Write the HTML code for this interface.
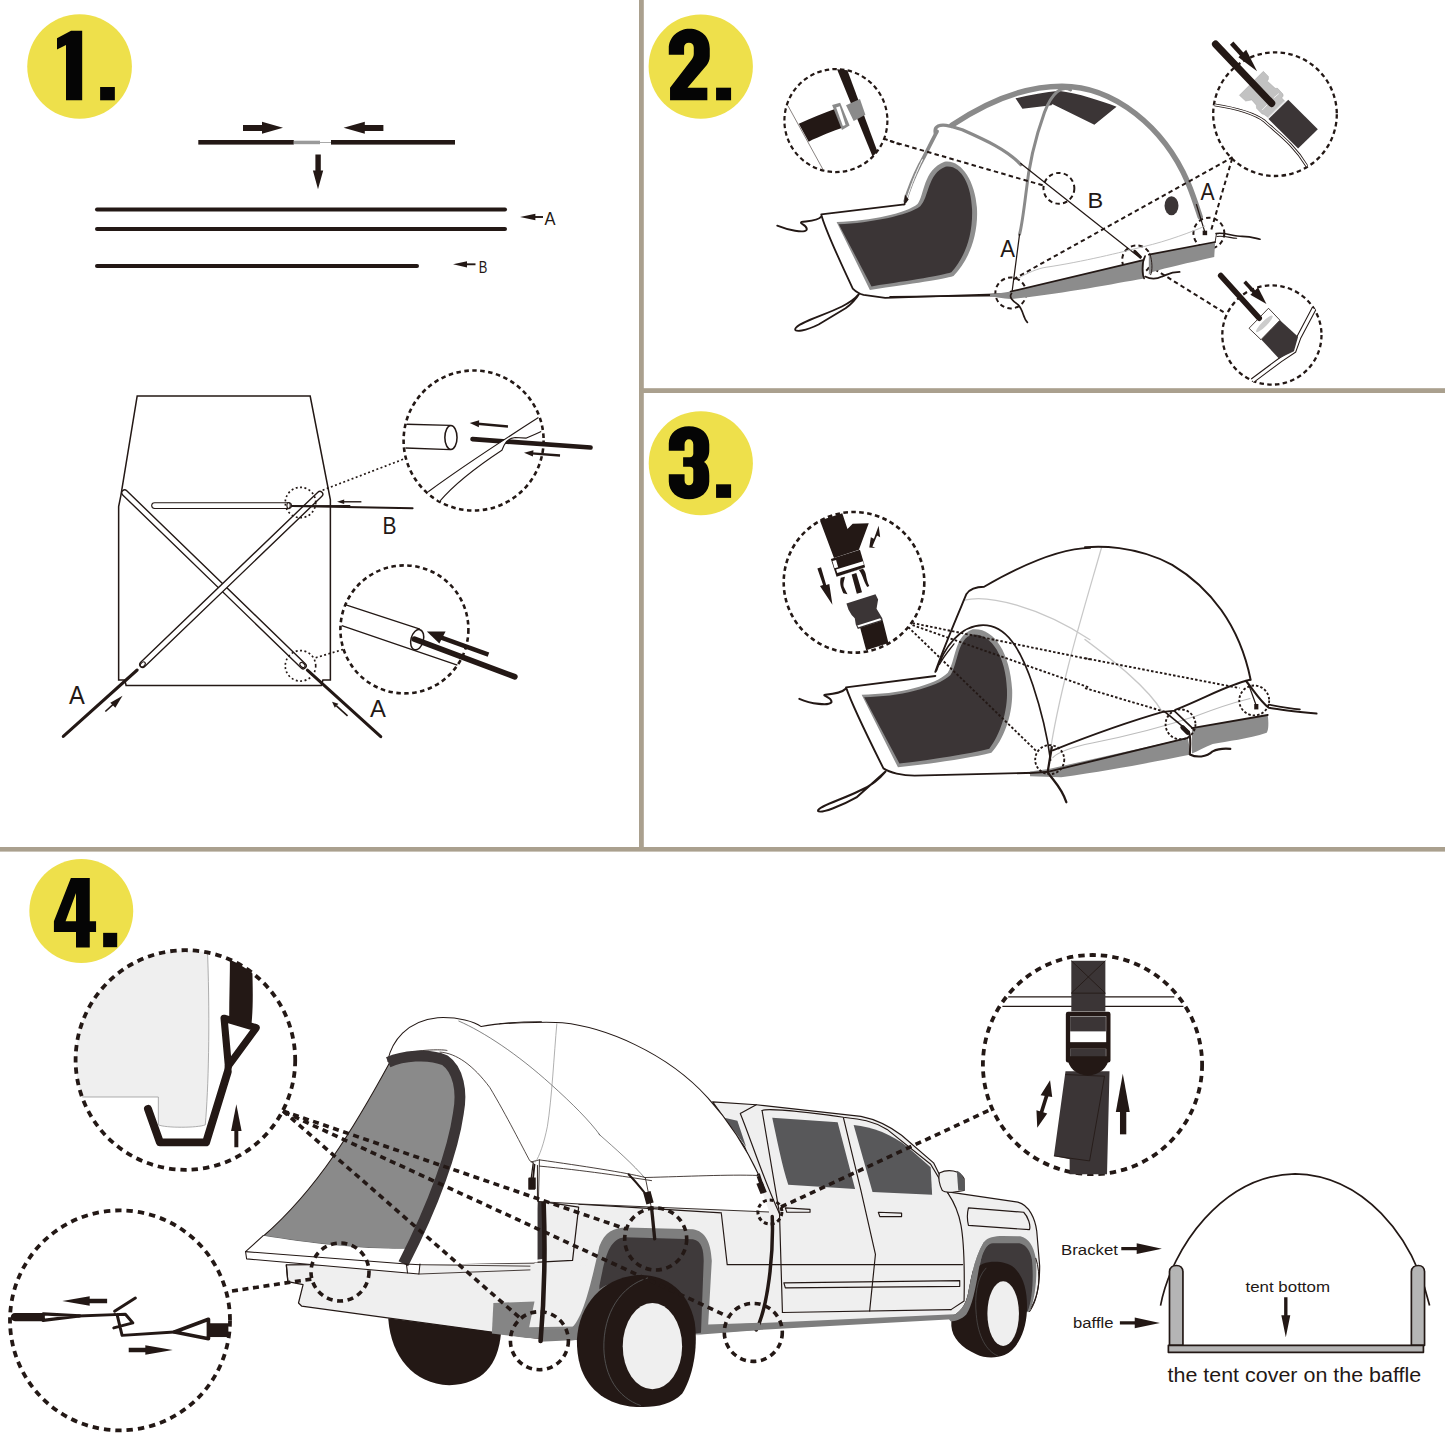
<!DOCTYPE html>
<html><head><meta charset="utf-8">
<style>
html,body{margin:0;padding:0;background:#fff;}
body{width:1445px;height:1445px;overflow:hidden;position:relative;}
svg{position:absolute;left:0;top:0;}
text{font-family:"Liberation Sans",sans-serif;}
</style></head>
<body>
<svg width="1445" height="1445" viewBox="0 0 1445 1445">
<rect x="0" y="0" width="1445" height="1445" fill="#ffffff"/>
<!-- dividers -->
<rect x="639" y="0" width="4.8" height="851" fill="#aaa08e"/>
<rect x="639" y="388.2" width="806" height="4.8" fill="#aaa08e"/>
<rect x="0" y="847" width="1445" height="4.6" fill="#aaa08e"/>

<!-- BADGES -->
<g id="badges">
<g transform="translate(10,0) scale(0.0969)">
<circle cx="718" cy="686.5" r="540" fill="#eee04b"/>
<path d="M485,395 L630,318 L745,318 L745,1035 L578,1035 L578,465 L485,510 Z" fill="#050505"/>
<rect x="930" y="898" width="152" height="137" fill="#050505"/>
</g>
<g transform="translate(640,0) scale(0.0969)">
<circle cx="627" cy="686.5" r="538" fill="#eee04b"/>
<path d="M297,565 L297,500 C297,380 400,297 510,297 C630,297 720,380 720,500 L720,580 C720,620 705,650 690,670 L490,905 L695,905 L695,1035 L310,1035 L310,905 L530,620 C545,600 555,580 555,555 L555,490 C555,460 535,440 505,440 C475,440 455,460 455,490 L455,565 Z" fill="#050505"/>
<rect x="785" y="905" width="155" height="130" fill="#050505"/>
</g>
<g transform="translate(640,400) scale(0.0969)">
<circle cx="627.5" cy="652.5" r="537.5" fill="#eee04b"/>
<path d="M297,525 L297,450 C297,340 390,270 505,270 C625,270 715,340 715,460 L715,520 C715,580 690,620 660,640 C695,660 715,710 715,780 L715,840 C715,950 625,1025 505,1025 C390,1025 297,950 297,840 L297,765 L460,765 L460,830 C460,860 480,880 505,880 C530,880 550,860 550,830 L550,720 C550,700 535,690 515,690 L445,690 L445,590 L515,590 C535,590 550,575 550,555 L550,460 C550,425 530,405 505,405 C480,405 460,425 460,460 L460,525 Z" fill="#050505"/>
<rect x="785" y="870" width="155" height="140" fill="#050505"/>
</g>
<g transform="translate(20,850) scale(0.0969)">
<circle cx="632.5" cy="630" r="536" fill="#eee04b"/>
<path d="M525,290 L720,290 L720,735 L785,735 L785,845 L720,845 L720,1005 L578,1005 L578,845 L350,845 L350,735 Z M578,445 L470,735 L578,735 Z" fill="#050505" fill-rule="evenodd"/>
<rect x="858" y="855" width="145" height="148" fill="#050505"/>
</g>
</g>

<!-- PANEL 1 -->
<g id="p1" fill="#231815" stroke="none">
<rect x="198.3" y="140" width="95.5" height="4.6"/>
<rect x="293.8" y="140.7" width="26.2" height="3.5" fill="#9a9a9a"/>
<rect x="320" y="142" width="11" height="1" fill="#aaa"/>
<rect x="331" y="140" width="124" height="4.6"/>
<path d="M243,125 L262,125 L262,121.8 L283,127.8 L262,133.8 L262,131 L243,131 Z"/>
<path d="M383.4,125 L364.8,125 L364.8,121.8 L343.6,127.8 L364.8,133.8 L364.8,131 L383.4,131 Z"/>
<path d="M315.4,154.4 L320.8,154.4 L320.8,170.6 L323.2,170.6 L318,189.3 L312.9,170.6 L315.4,170.6 Z"/>
<g stroke="#231815" stroke-width="4" stroke-linecap="round" fill="none">
<line x1="97" y1="209.5" x2="505" y2="209.5"/>
<line x1="97" y1="229" x2="505" y2="229"/>
<line x1="97" y1="266" x2="417" y2="266"/>
</g>
<g stroke="#231815" stroke-width="1.9" fill="none">
<line x1="533" y1="217" x2="543" y2="217"/>
<line x1="466" y1="264.3" x2="475.5" y2="264.3"/>
</g>
<path d="M520,217 L535.4,213.8 L535.4,220.2 Z"/>
<path d="M453,264.3 L467,261.2 L467,267.4 Z"/>
<text x="544.6" y="225.3" font-size="17.5" fill="#231815" textLength="11" lengthAdjust="spacingAndGlyphs">A</text>
<text x="478.8" y="273.3" font-size="17" fill="#231815" textLength="8.6" lengthAdjust="spacingAndGlyphs">B</text>
</g>

<!-- PANEL 1 lower -->
<g id="p1b">
<g transform="translate(50,360) scale(0.27678)" fill="none" stroke="#231815">
<path d="M315,130 L940,130 L1013,505 L1013,1156 L986,1156 L980,1176 L275,1176 L270,1156 L248,1156 L248,530 L256,490 Z" stroke-width="5.5" stroke-linejoin="miter"/>
<line x1="270" y1="480" x2="915" y2="1105" stroke-width="26" stroke-linecap="round"/>
<line x1="270" y1="480" x2="915" y2="1105" stroke-width="16" stroke="#fff" stroke-linecap="round"/>
<line x1="975" y1="485" x2="335" y2="1100" stroke-width="26" stroke-linecap="round"/>
<line x1="975" y1="485" x2="335" y2="1100" stroke-width="16" stroke="#fff" stroke-linecap="round"/>
<ellipse cx="335" cy="1100" rx="7" ry="11" transform="rotate(45 335 1100)" stroke-width="4"/>
<ellipse cx="912" cy="1102" rx="7" ry="11" transform="rotate(-45 912 1102)" stroke-width="4"/>
<line x1="378" y1="526" x2="862" y2="526" stroke-width="25" stroke-linecap="round"/>
<line x1="378" y1="526" x2="862" y2="526" stroke-width="17" stroke="#fff" stroke-linecap="round"/>
<ellipse cx="862" cy="526" rx="6" ry="11" stroke-width="4"/>
<circle cx="905" cy="515" r="55" stroke-width="6" stroke-dasharray="7 9"/>
<circle cx="905" cy="1105" r="55" stroke-width="6" stroke-dasharray="7 9"/>
<line x1="48" y1="1360" x2="315" y2="1120" stroke-width="11" stroke-linecap="round"/>
<line x1="200" y1="1270" x2="245" y2="1229" stroke-width="6"/>
<path d="M262,1213 L218,1238 L236,1256 Z" fill="#231815" stroke="none"/>
<line x1="882" y1="528" x2="1085" y2="527" stroke-width="7"/>
</g>
<text x="69" y="703.8" font-size="25" fill="#231815" textLength="15.8" lengthAdjust="spacingAndGlyphs">A</text>
<g transform="translate(270,360) scale(0.27693)" fill="none" stroke="#231815">
<line x1="190" y1="470" x2="490" y2="355" stroke-width="6" stroke-dasharray="7 9"/>
<line x1="165" y1="1075" x2="265" y2="1045" stroke-width="6" stroke-dasharray="7 9"/>
<line x1="80" y1="527" x2="515" y2="535" stroke-width="7" stroke-linecap="round"/>
<line x1="330" y1="512" x2="262" y2="512" stroke-width="5"/>
<path d="M242,512 L268,504 L268,520 Z" fill="#231815" stroke="none"/>
<line x1="135" y1="1120" x2="400" y2="1360" stroke-width="11" stroke-linecap="round"/>
<line x1="280" y1="1285" x2="240" y2="1249" stroke-width="6"/>
<path d="M224,1234 L247,1241 L234,1256 Z" fill="#231815" stroke="none"/>
</g>
<text x="382.4" y="533.9" font-size="24.5" fill="#231815" textLength="14" lengthAdjust="spacingAndGlyphs">B</text>
<text x="370" y="716.7" font-size="24.3" fill="#231815" textLength="15.9" lengthAdjust="spacingAndGlyphs">A</text>
<circle cx="473.6" cy="440.5" r="70" fill="none" stroke="#231815" stroke-width="2.6" stroke-dasharray="4.5 3.5"/>
<g transform="translate(400,360) scale(0.11074)" fill="none" stroke="#231815">
<path d="M60,580 L455,590 M50,795 L455,810" stroke-width="12"/>
<ellipse cx="460" cy="700" rx="55" ry="108" stroke-width="14" fill="#fff"/>
<line x1="975" y1="600" x2="700" y2="575" stroke-width="22"/>
<path d="M630,570 L715,545 L712,608 Z" fill="#231815" stroke="none"/>
<line x1="655" y1="715" x2="1720" y2="790" stroke-width="42" stroke-linecap="round"/>
<path d="M255,1190 C500,1010 750,840 1250,520 L1275,645 C1200,680 1150,700 1140,705 L1040,700 C990,705 960,730 940,770 L920,815 C700,960 500,1110 360,1275 Z" fill="#fff" stroke="none"/>
<path d="M255,1190 C500,1010 750,840 1250,520 M1275,645 C1200,680 1150,700 1140,705 L1040,700 C990,705 960,730 940,770 L920,815 C700,960 500,1110 360,1275" stroke-width="10"/>
<line x1="1445" y1="862" x2="1190" y2="843" stroke-width="22"/>
<path d="M1120,838 L1205,815 L1200,872 Z" fill="#231815" stroke="none"/>
</g>
<circle cx="404.4" cy="629.4" r="64" fill="none" stroke="#231815" stroke-width="2.6" stroke-dasharray="4.5 3.5"/>
<g transform="translate(330,555) scale(0.13841)" fill="none" stroke="#231815">
<path d="M115,360 L650,535 M85,510 L920,795" stroke-width="9"/>
<line x1="610" y1="608" x2="1335" y2="880" stroke-width="42" stroke-linecap="round"/>
<ellipse cx="630" cy="612" rx="45" ry="75" transform="rotate(15 630 612)" stroke-width="11"/>
<line x1="1145" y1="720" x2="800" y2="595" stroke-width="34"/>
<path d="M700,552 L835,553 L790,640 Z" fill="#231815" stroke="none"/>
</g>
</g>

<!-- PANEL 2 -->
<g id="p2">
<!-- front panel + window (H) -->
<g transform="translate(770,150) scale(0.17993)" fill="none" stroke="#231815" stroke-linecap="round" stroke-linejoin="round">
<path d="M370,400 C560,395 760,350 820,300 C860,250 850,110 970,65 C1060,50 1140,170 1150,320 C1160,480 1100,620 1020,700 C960,720 800,740 555,778 Z" fill="#8e8e8e" stroke="none"/>
<path d="M382,412 C560,405 770,362 835,312 C885,262 875,130 975,93 C1060,80 1118,190 1123,330 C1128,480 1080,600 1008,680 C950,700 800,722 564,758 Z" fill="#3b3536" stroke="none"/>
<path d="M748,302 L285,358 C300,420 380,600 460,770 C480,790 500,800 520,805 L640,822 L1340,800" stroke-width="10"/>
<path d="M40,420 C90,440 200,470 205,440 C205,415 160,410 175,400 C210,395 270,395 285,370" stroke-width="10"/>
<path d="M495,800 C470,830 440,850 400,870 C300,920 150,960 140,995 C135,1015 200,1005 270,970 L420,880 C460,850 480,825 495,800" stroke-width="10"/>
</g>
<!-- dome (I) -->
<g transform="translate(920,70) scale(0.13841)" stroke="none">
<path d="M690,205 C800,180 900,160 1010,150 L950,255 L740,280 Z M1000,150 C1150,170 1300,220 1420,265 L1260,395 L955,245 Z" fill="#3b3536"/>
</g>

<g transform="translate(890,70) scale(0.24913)" fill="none" stroke="#231815" stroke-linecap="round" stroke-linejoin="round">
<path d="M0,910 L480,905" stroke-width="6"/>

<path d="M248,222 C400,120 550,65 690,65 C900,65 1100,230 1195,450 C1220,510 1235,560 1245,590" stroke="#8a8a8a" stroke-width="22"/>
<path d="M182,255 C175,225 200,215 240,225 L290,240 C380,280 470,320 525,380" stroke="#8a8a8a" stroke-width="13"/>
<path d="M189,246 C165,290 145,335 120,380 C95,430 75,480 61,527" stroke="#8a8a8a" stroke-width="15"/>
<path d="M60,500 L55,545 L75,520 Z" fill="#231815" stroke="none"/>
<path d="M130,360 C110,400 85,460 70,510" stroke="#fff" stroke-width="4"/>
<path d="M725,80 C690,60 650,90 620,170 C590,253 560,350 545,500 C535,580 525,640 520,660" stroke="#8a8a8a" stroke-width="12"/>
<path d="M520,660 L490,890" stroke-width="5"/>
<path d="M1230,540 L1265,655" stroke-width="5"/>
<path d="M525,375 L1005,755" stroke-width="5"/>
<ellipse cx="1130" cy="545" rx="28" ry="38" fill="#3b3536" stroke="none"/>
<rect x="1255" y="645" width="18" height="18" fill="#231815" stroke="none"/>
<g stroke-width="8" stroke-dasharray="18 13" stroke-linecap="butt">
<path d="M0,285 L620,465"/>
<path d="M495,840 L1375,350"/>
<path d="M1290,640 L1375,350"/>
<path d="M1061,799 L1339,972"/>
<circle cx="678" cy="475" r="62"/>
<circle cx="485" cy="895" r="62"/>
<circle cx="990" cy="762" r="58"/>
<circle cx="1280" cy="655" r="62"/>
</g>
</g>
<g transform="translate(990,200) scale(0.18685)" fill="none" stroke="#231815" stroke-linecap="round" stroke-linejoin="round">
<path d="M0,505 C40,500 80,495 110,490 L820,322 L825,420 C650,450 400,500 110,530 C70,528 30,520 0,515 Z" fill="#8c8c8c" stroke="none"/>
<path d="M850,292 L1205,225 L1200,305 C1050,340 950,360 870,385 L850,400 Z" fill="#8c8c8c" stroke="none"/>
<path d="M150,420 C200,390 260,365 300,360 C500,330 700,280 820,250 C950,220 1080,170 1150,140" stroke="#bbb" stroke-width="5"/>
<path d="M110,490 L820,322 M850,292 L1205,225" stroke-width="9"/>
<path d="M1205,225 L1212,180" stroke-width="5"/>
<path d="M830,300 C810,340 815,400 825,420" stroke-width="9"/>
<path d="M855,285 C870,330 870,380 860,400" stroke-width="5"/>
<path d="M1210,180 C1250,170 1300,195 1350,195 C1400,195 1420,205 1445,210" stroke-width="9"/>
<path d="M1215,195 C1260,190 1290,205 1320,205" stroke-width="6"/>
<path d="M830,410 C870,430 900,420 920,410 C950,400 960,385 1015,385" stroke-width="9"/>
<path d="M115,500 C100,520 120,540 150,560 C180,590 175,630 200,655" stroke-width="9"/>
<path d="M775,275 L805,305" stroke-width="16"/>
</g>
<text x="1000.3" y="257.1" font-size="23.5" fill="#231815" textLength="14.8" lengthAdjust="spacingAndGlyphs">A</text>
<text x="1087.6" y="208" font-size="21.5" fill="#231815" textLength="15.7" lengthAdjust="spacingAndGlyphs">B</text>
<text x="1200.4" y="199.5" font-size="23" fill="#231815" textLength="14.1" lengthAdjust="spacingAndGlyphs">A</text>
<!-- strap circle (G) -->
<circle cx="835.9" cy="120.6" r="51.5" fill="none" stroke="#231815" stroke-width="2.2" stroke-dasharray="4.5 3.2"/>
<g transform="translate(770,50) scale(0.08997)" stroke="none">
<path d="M200,620 L590,1330" stroke="#231815" stroke-width="6"/>
<path d="M745,215 L860,225 L1195,1130 L1140,1185 Z" fill="#231815"/>
<path d="M320,820 C450,760 600,700 735,650 L820,860 C700,900 550,960 430,1020 Z" fill="#231815"/>
<path d="M690,610 L780,585 L885,840 L800,890 Z" fill="#8a8a8a"/>
<path d="M735,640 L775,625 L840,835 L810,845 Z" fill="#fff"/>
<path d="M845,615 L1000,545 L1060,720 L930,790 Z" fill="#8a8a8a"/>
<line x1="1265" y1="985" x2="1445" y2="1050" stroke="#231815" stroke-width="22" stroke-dasharray="45 30"/>
</g>
<!-- upper right circle (J) -->
<circle cx="1275" cy="114.2" r="61.8" fill="none" stroke="#231815" stroke-width="2.3" stroke-dasharray="4.5 3.3"/>
<g transform="translate(1200,40) scale(0.10381)" fill="none" stroke="#231815" stroke-linecap="round">
<path d="M140,625 C300,650 500,690 620,780 C750,900 900,1000 1030,1215" stroke-width="28" stroke-linecap="butt"/>
<path d="M140,625 C300,650 500,690 620,780 C750,900 900,1000 1030,1215" stroke="#fff" stroke-width="12" stroke-linecap="butt"/>
<path d="M660,760 L850,575 L1135,860 L945,1045 Z" fill="#3b3536" stroke="none"/>
</g>
<g transform="translate(1235,65) scale(0.04845)" stroke="none">
<path d="M90,625 L585,130 L690,235 L690,295 L665,330 L830,480 L880,482 L990,600 L995,640 L965,680 L1030,750 L690,1090 L600,1020 L560,1012 L445,895 L440,830 L345,720 L220,745 Z" fill="#c2c2c2" stroke="#9a9a9a" stroke-width="8"/>
<path d="M560,930 L665,820 M800,680 L905,590" stroke="#fff" stroke-width="16"/>
<path d="M1030,750 L690,1090" stroke="#e5e5e5" stroke-width="30"/>
</g>
<g transform="translate(1200,40) scale(0.10381)" fill="none" stroke="#231815" stroke-linecap="round">
<line x1="150" y1="40" x2="690" y2="610" stroke-width="70"/>
<line x1="305" y1="30" x2="450" y2="190" stroke-width="45" stroke-linecap="butt"/>
<path d="M550,300 L370,165 L445,95 Z" fill="#231815" stroke="none"/>
</g>
<!-- lower right circle (K) -->
<circle cx="1271.9" cy="335" r="49.6" fill="none" stroke="#231815" stroke-width="2.3" stroke-dasharray="4.5 3.3"/>
<g transform="translate(1200,260) scale(0.10381)" fill="none" stroke="#231815" stroke-linecap="round">
<path d="M505,1162 L770,965 L905,875 L950,750 L1098,470" stroke-width="50" stroke-linecap="butt" stroke-linejoin="miter"/>
<path d="M505,1162 L770,965 L905,875 L950,750 L1098,470" stroke="#fff" stroke-width="30" stroke-linecap="butt" stroke-linejoin="miter"/>
<path d="M590,765 L770,580 L945,740 L905,880 L760,950 Z" fill="#3b3536" stroke="none"/>
<path d="M475,655 L660,465 L770,580 L590,765 Z" fill="#fff" stroke-width="8"/>
<ellipse cx="620" cy="615" rx="110" ry="25" transform="rotate(-45 620 615)" fill="#ccc" stroke="none"/>
<line x1="200" y1="150" x2="570" y2="560" stroke-width="55"/>
<line x1="430" y1="210" x2="550" y2="340" stroke-width="35" stroke-linecap="butt"/>
<path d="M640,425 L485,335 L560,265 Z" fill="#231815" stroke="none"/>
</g>
</g>

<!-- PANEL 3 -->
<g id="p3">
<g transform="translate(790,540) scale(0.20761)" fill="none" stroke="#231815" stroke-linecap="round" stroke-linejoin="round">
<path d="M840,290 C950,260 1200,320 1445,480" stroke="#c8c8c8" stroke-width="6"/>
<path d="M1501,35 C1420,320 1300,700 1250,1040" stroke="#c8c8c8" stroke-width="6"/>
<path d="M345,745 C520,745 700,700 760,640 C800,580 790,460 880,430 C980,420 1060,540 1070,720 C1075,840 1030,960 970,1025 C870,1050 700,1075 520,1095 Z" fill="#8e8e8e" stroke="none"/>
<path d="M357,757 C520,757 705,712 772,652 C812,592 805,472 880,455 C970,450 1040,560 1045,720 C1050,830 1010,940 960,1005 C860,1030 700,1055 527,1077 Z" fill="#3b3536" stroke="none"/>
<path d="M700,635 C740,520 800,380 850,260 C870,230 910,225 935,225 C1100,130 1300,40 1445,38" stroke-width="9"/>
<path d="M705,630 C740,520 820,410 930,410 C1040,410 1110,520 1170,700 C1210,820 1240,950 1255,1060" stroke-width="8"/>
<path d="M720,600 C740,560 760,540 790,500" stroke-width="6"/>
<path d="M700,655 L270,710 C300,800 380,960 450,1100 C480,1120 540,1135 600,1135 L1230,1120" stroke-width="9"/>
<path d="M45,765 C100,790 190,800 200,780 C200,755 150,750 170,745 C220,740 250,735 270,715" stroke-width="10"/>
<path d="M460,1115 C430,1150 400,1180 330,1210 C250,1250 130,1285 135,1305 C145,1320 250,1280 320,1240 L460,1115" stroke-width="10"/>
<g stroke-width="9" stroke-dasharray="12 9.6" stroke-linecap="butt">
<path d="M590,400 L1445,575"/>
<path d="M590,410 L1445,712"/>
<path d="M570,420 L1190,1020"/>
</g>
</g>
<g transform="translate(1085,500) scale(0.24913)" fill="none" stroke="#231815" stroke-linecap="round" stroke-linejoin="round">
<path d="M0,560 C120,650 250,750 310,850" stroke="#c8c8c8" stroke-width="6"/>
<path d="M0,190 C50,185 200,180 350,260 C500,350 620,500 665,722" stroke-width="8"/>
<g stroke-width="7.6" stroke-dasharray="10 8" stroke-linecap="butt">
<path d="M0,635 L620,755"/>
<path d="M0,755 L320,850"/>
</g>
</g>
<g transform="translate(1030,660) scale(0.20761)" fill="none" stroke="#231815" stroke-linecap="round" stroke-linejoin="round">
<path d="M0,537 L90,525 L760,375 L775,455 C600,490 400,530 150,565 L0,560 Z" fill="#8c8c8c" stroke="none"/>
<path d="M780,330 L1145,265 C1150,300 1150,340 1140,350 C1050,380 950,390 880,405 C840,420 810,440 780,450 Z" fill="#8c8c8c" stroke="none"/>
<path d="M110,470 C150,430 250,410 300,400 C500,360 650,320 800,270 C900,230 1000,200 1060,185" stroke="#bdbdbd" stroke-width="5"/>
<path d="M0,545 L90,538 L760,375 M780,328 L1145,265" stroke-width="9"/>
<path d="M110,435 C300,360 500,290 640,250 L690,245 M700,240 C850,180 950,120 1060,95" stroke-width="9"/>
<path d="M650,250 L760,340 M695,245 L790,335" stroke-width="8"/>
<path d="M735,325 L760,350" stroke-width="22"/>
<g stroke-width="9" stroke-dasharray="12 9.6" stroke-linecap="butt">
<circle cx="95" cy="480" r="70"/>
<circle cx="725" cy="310" r="72"/>
<circle cx="1080" cy="195" r="72"/>
</g>
<path d="M105,420 L85,540 C110,580 150,610 175,685" stroke-width="11"/>
<path d="M765,345 C778,380 770,430 770,455 C800,470 850,470 880,440 C900,430 930,425 965,428" stroke-width="10"/>
<path d="M1040,100 C1080,150 1110,200 1150,230 C1200,240 1300,250 1380,258" stroke-width="10"/>
<path d="M1150,215 C1200,225 1250,235 1300,238" stroke-width="8"/>
<path d="M1052,115 L1090,220" stroke-width="6"/>
<rect x="1080" y="212" width="20" height="26" fill="#231815" stroke="none"/>
</g>
<circle cx="854" cy="582.3" r="70.3" fill="none" stroke="#231815" stroke-width="2.6" stroke-dasharray="4.6 3.4"/>
<g transform="translate(780,505) scale(0.10381)" stroke="none">
<path d="M385,150 L600,80 L650,230 L700,180 L855,175 L760,430 L520,510 Z" fill="#231815"/>
<path d="M490,520 L770,430 L820,600 L545,690 Z" fill="#231815"/>
<path d="M505,540 L540,530 L560,600 L525,610 Z M540,622 L800,542 L808,575 L552,655 Z" fill="#fff"/>
<path d="M545,690 L820,600 L800,610 Z" fill="#231815"/>
<path d="M690,670 L735,655 L790,840 L740,855 Z" fill="#231815"/>
<path d="M585,700 L625,690 C620,730 600,760 620,800 L650,860 L610,850 C590,800 570,760 585,700 Z" fill="#231815"/>
<path d="M760,625 L800,615 C840,660 820,700 860,780 L840,790 C800,720 800,680 760,625 Z" fill="#231815"/>
<path d="M360,612 L395,600 L445,770 L475,760 L505,960 L385,780 L415,770 Z" fill="#231815"/>
<path d="M950,200 L965,310 L935,295 L890,400 L920,415 L860,410 L875,310 L905,325 L945,215 Z" fill="#231815"/>
<path d="M640,950 L920,860 L945,910 L930,1000 L955,1040 L985,1090 L990,1115 L750,1195 L730,1150 L720,1090 L690,1060 L660,1010 Z" fill="#3b3536"/>
<path d="M745,1160 L965,1090 L975,1108 L755,1178 Z" fill="#fff"/>
<path d="M772,1182 L990,1112 L1045,1330 L830,1400 Z" fill="#231815"/>
</g>
</g>

<!-- PANEL 4 -->
<g id="p4">
<!-- rear Y1 -->
<g transform="translate(230,1000) scale(0.3045)" fill="none" stroke="#231815" stroke-linejoin="round" stroke-linecap="round">
<path d="M185,870 L1445,860 L1445,1095 L1120,1115 L1000,1110 L235,1005 L225,995 L240,935 L190,925 Z" fill="#efefef" stroke-width="4"/>
<path d="M520,1050 C530,1170 600,1260 720,1265 C830,1260 880,1200 890,1095 L860,1090 L520,1045 Z" fill="#231815" stroke="none"/>
<path d="M865,995 L1000,990 L975,1110 L860,1095 Z" fill="#858585" stroke="none"/>
<path d="M975,1075 L1140,1072 L1130,1115 L975,1110 Z" fill="#858585" stroke="none"/>
<path d="M1000,655 L1445,640 L1445,860 L1000,880 Z" fill="#efefef" stroke="none"/>
<path d="M1010,660 L1145,680 L1125,855 L1000,862" stroke-width="4"/>
<path d="M1010,662 L1035,662 L1030,850 L995,855 Z" fill="#3b3536" stroke="none"/>
</g>
<!-- front body V -->
<g transform="translate(640,1080) scale(0.29066)" fill="none" stroke="#231815" stroke-linejoin="round" stroke-linecap="round">
<path d="M0,335 L400,328 L360,230 L250,75 L400,85 L760,125 C810,135 860,160 900,190 L1010,285 L1060,385 L1300,420 C1340,430 1360,480 1365,520 L1375,640 C1375,700 1365,760 1340,790 L1110,815 L230,870 L200,880 L0,880 Z" fill="#efefef" stroke="none"/>
<path d="M0,335 L400,328 L360,230 L250,75 L400,85 L760,125 C810,135 860,160 900,190 L1010,285 L1060,385 L1300,420 C1340,430 1360,480 1365,520 L1375,640 C1375,700 1365,760 1340,790" stroke-width="4"/>
<path d="M455,130 L680,145 L740,375 L510,360 C490,300 470,200 455,130 Z" fill="#58585a" stroke="none"/>
<path d="M735,155 C800,160 870,190 920,230 L1000,300 L1005,395 L800,385 Z" fill="#58585a" stroke="none"/>
<path d="M290,130 L335,140 L365,230 Z" fill="#58585a" stroke="none"/>
<path d="M345,115 L400,85 M345,115 C380,200 420,330 480,460" stroke-width="4"/>
<path d="M420,105 C430,100 500,100 700,128 C760,135 800,140 850,170 L1000,290 L1060,390" stroke-width="4"/>
<path d="M420,105 L480,460 L490,800 M700,130 L760,380 L810,600 L790,795 M1060,390 C1100,450 1120,500 1115,760 L1070,790" stroke-width="4"/>
<path d="M300,635 L1110,635 M280,460 L300,635 M490,800 L1070,790 M-210,427 L280,457" stroke-width="4"/>
<path d="M495,698 L1100,690 L1100,710 L500,715 Z" stroke-width="4"/>
<path d="M500,440 L585,445 L585,455 L505,455 Z M820,455 L900,458 L900,470 L825,470 Z" stroke-width="4"/>
<path d="M1030,320 C1060,305 1100,310 1115,340 L1115,380 C1090,385 1050,390 1040,380 C1030,360 1025,340 1030,320 Z" fill="#efefef" stroke-width="4"/>
<path d="M1090,312 C1110,320 1118,340 1118,380 L1095,380 Z" fill="#58585a" stroke="none"/>
<path d="M1130,440 L1320,455 C1335,470 1345,500 1340,515 L1130,500 C1125,480 1125,460 1130,440 Z" stroke-width="4"/>
<path d="M230,845 L1100,805 L1090,822 L230,870 Z" fill="#7e7e7e" stroke="none"/>
<path d="M400,325 L420,385" stroke-width="25" stroke-linecap="butt"/>
<path d="M380,280 L405,330" stroke-width="5"/>
<path d="M455,470 C460,600 440,780 400,860" stroke-width="12"/>
</g>
<!-- front wheel FW -->
<g transform="translate(860,1140) scale(0.16609)" stroke="none">
<path d="M530,1070 C600,1045 640,1000 655,900 C675,790 700,690 745,615 C770,585 810,578 860,578 L965,580 C1015,590 1045,640 1058,710 C1068,800 1060,950 1020,1035 Z" fill="#7e7e7e"/>
<path d="M690,1000 C700,900 715,780 735,690 C750,645 770,625 800,622 L960,622 C1000,630 1025,670 1035,720 C1045,820 1040,950 1010,1030 L690,1030 Z" fill="#3f3a3b"/>
<clipPath id="clipFW"><path d="M0,1075 L530,1075 C600,1045 640,1000 655,900 C675,790 700,690 745,615 L1200,615 L1200,1445 L0,1445 Z"/></clipPath>
<path clip-path="url(#clipFW)" d="M550,1120 C550,960 620,800 740,745 C800,725 880,730 930,770 C990,830 1010,920 1005,1030 C1000,1150 950,1260 870,1295 C820,1315 750,1315 700,1290 C610,1250 555,1190 550,1120 Z" fill="#231815"/>
<path d="M530,1070 C600,1045 640,1000 655,900 C675,790 700,690 745,615 L785,622 C750,645 730,700 715,780 C695,900 675,1000 640,1050 C610,1080 575,1090 545,1092 Z" fill="#7e7e7e"/>
<ellipse cx="862" cy="1045" rx="95" ry="195" fill="#efefef"/>
<path d="M760,770 C700,830 690,950 700,1050 C710,1180 760,1270 830,1300" fill="none" stroke="#555" stroke-width="4"/>
<path d="M1058,710 C1075,760 1080,820 1075,870 C1065,950 1045,1000 1020,1035" fill="none" stroke="#231815" stroke-width="6"/>
</g>
<!-- rear right wheel Z -->
<g transform="translate(540,1160) scale(0.17989)" stroke="none">
<path d="M0,945 L170,940 C240,880 280,700 330,480 C360,400 410,375 480,375 L850,385 C920,395 950,460 955,560 L935,915 L1223,905 L1223,945 L895,970 L870,970 L200,1000 L0,1010 Z" fill="#7e7e7e"/>
<path d="M330,700 C360,550 380,440 470,430 L850,440 C900,450 910,500 910,560 L895,960 L860,965 C850,800 780,680 600,650 C450,650 350,700 330,720 Z" fill="#3f3a3b"/>
<path d="M205,1000 C215,800 350,660 530,640 C700,630 820,720 860,900 C880,1050 850,1200 790,1300 C720,1370 620,1380 500,1370 C350,1350 260,1260 225,1150 C210,1100 205,1050 205,1000 Z" fill="#231815"/>
<ellipse cx="625" cy="1035" rx="165" ry="240" fill="#efefef"/>
<path d="M600,655 C450,700 350,850 355,1050 C360,1200 430,1320 560,1365" fill="none" stroke="#555" stroke-width="5"/>
</g>
<!-- rear Y2 -->
<g transform="translate(230,1000) scale(0.3045)" fill="none" stroke="#231815" stroke-linejoin="round" stroke-linecap="round">
<path d="M520,195 C530,120 600,60 700,60 C760,60 800,75 830,85 C950,70 1100,70 1200,90 C1300,120 1400,180 1445,210 L1445,590 L1370,585 L1010,530 L1010,862 L620,870 L105,775 C220,620 330,480 420,370 C470,290 500,230 520,195 Z" fill="#fff" stroke="none"/>
<path d="M1010,525 L1010,660" stroke-width="4"/>
<path d="M185,870 L190,925" stroke-width="4"/>
<path d="M1000,540 L995,590" stroke-width="6"/>
<rect x="980" y="585" width="22" height="38" fill="#231815" stroke="none"/>
<path d="M1030,665 C1035,800 1035,950 1020,1120" stroke-width="15"/>
</g>
<g transform="translate(230,1000) scale(0.20761)" fill="none" stroke="#231815" stroke-linejoin="round" stroke-linecap="round">
<path d="M760,290 C780,200 850,100 1000,85 C1100,80 1180,105 1210,128 C1300,110 1400,105 1500,105" stroke-width="5"/>
<path d="M760,295 C800,260 900,240 1000,240 C1030,240 1040,242 1045,243" stroke-width="4"/>
<path d="M160,1138 C425,908 604,604 770,300 C850,270 950,260 1030,290 C1100,330 1120,420 1110,520 C1090,700 1000,950 840,1265 L830,1200 C650,1200 400,1175 160,1138 Z" fill="#8a8a8a" stroke="none"/>
<path d="M160,1138 C425,908 604,604 770,300" stroke-width="5"/>
<path d="M160,1135 C400,1175 650,1200 835,1198" stroke="#555" stroke-width="3"/>
<path d="M75,1212 L160,1135 C400,1175 650,1200 840,1198 L915,1272 L910,1320 L855,1315 L80,1247 Z" fill="#fff" stroke="none"/>
<path d="M75,1212 L160,1135 M915,1272 L910,1320 L855,1315 L80,1247 L75,1212" stroke-width="5"/>
<path d="M762,300 C830,270 950,255 1035,290 C1100,335 1120,440 1100,545 C1075,720 985,980 835,1270" stroke="#3b3536" stroke-width="52" stroke-linecap="butt"/>
<path d="M75,1212 L850,1272 L855,1315 M850,1272 L915,1275" stroke-width="5"/>
<path d="M915,1275 L1445,1282 M910,1320 L1445,1300" stroke-width="4"/>
</g>
<path d="M537.9,1160.5 L648.3,1177.6 L756.1,1175 L769.3,1211.8 L580,1203.9 L537.9,1201.2 Z" fill="#fff"/>
<path d="M537.9,1201.5 L580,1204 L769,1212" fill="none" stroke="#231815" stroke-width="0.9"/>
<!-- tent right T -->
<g transform="translate(500,1000) scale(0.20761)" fill="none" stroke="#231815" stroke-linejoin="round" stroke-linecap="round">
<path d="M0,115 C100,108 250,105 300,110 C500,130 800,250 1000,470 C1100,580 1180,700 1250,850 L700,855 L190,800 L150,780 L0,780 Z" fill="#fff" stroke="none"/>
<path d="M0,115 C100,108 250,105 300,110 C500,130 800,250 1000,470 C1100,580 1180,700 1250,850" stroke-width="5"/>
<path d="M475,645 C560,720 640,790 700,860" stroke="#444" stroke-width="3"/>
<path d="M150,780 L190,770 C400,800 600,830 700,855 C900,850 1100,840 1240,845 M190,800 C400,820 600,850 730,870 M190,770 L185,970 M700,855 L730,1005" stroke-width="4"/>
<path d="M160,785 L150,860" stroke-width="6"/>
<rect x="138" y="855" width="34" height="55" fill="#231815" stroke="none"/>
<path d="M620,840 C660,880 690,920 710,945" stroke-width="10"/>
<path d="M690,930 L725,920 L740,975 L705,985 Z" fill="#231815" stroke="none"/>
<path d="M1240,840 L1260,890" stroke-width="6"/>
<path d="M1235,885 L1265,875 L1285,925 L1255,935 Z" fill="#231815" stroke="none"/>
<path d="M730,1000 L745,1150" stroke-width="16"/>
</g>
</g>

<g transform="translate(440,1010) scale(0.11074)" fill="none" stroke="#231815" stroke-linecap="round">
<path d="M170,100 C400,200 700,400 1000,670 C1200,850 1350,1000 1445,1130" stroke="#444" stroke-width="6"/>
<path d="M0,380 C150,390 300,500 450,700 C600,950 750,1250 810,1360 L840,1380" stroke-width="7"/>
<path d="M1055,125 C1030,400 1010,800 970,1050 C940,1200 900,1320 860,1375" stroke="#888" stroke-width="6"/>
</g>
<!-- panel 4 dotted + detail circles -->
<g id="p4dots" fill="none" stroke="#231815" stroke-width="3.6" stroke-dasharray="6 4.6">
<path d="M283,1111 L626,1229"/>
<path d="M284,1112 L727,1316"/>
<path d="M283,1111 L520,1318"/>
<path d="M232,1291 L312,1279"/>
<path d="M781,1207 L992,1109"/>
<circle cx="340" cy="1272" r="29"/>
<circle cx="539.4" cy="1340.7" r="29"/>
<circle cx="655.7" cy="1239" r="31"/>
<circle cx="753.3" cy="1332.4" r="29"/>
<circle cx="769.9" cy="1212" r="12" stroke-width="3" stroke-dasharray="4 3"/>
</g>
<!-- upper-left detail Q -->
<clipPath id="clipQ"><circle cx="185.4" cy="1060" r="109.8"/></clipPath>
<g clip-path="url(#clipQ)">
<g transform="translate(70,945) scale(0.15917)" stroke="#231815" fill="none" stroke-linejoin="round" stroke-linecap="round">
<path d="M-200,-200 L865,-200 L865,70 C880,500 870,900 850,1130 C800,1150 600,1150 555,1130 L555,955 L-200,955 Z" fill="#efefef" stroke="#999" stroke-width="5"/>
<path d="M490,1030 L565,1240 L855,1240 L990,800" stroke-width="50"/>
<path d="M968,460 L1170,520 L995,760 Z" stroke-width="45"/>
<path d="M995,760 L990,800" stroke-width="45"/>
<path d="M1005,60 L1145,140 C1150,300 1150,400 1140,500 L1000,480 C1000,350 1005,200 1005,60 Z" fill="#231815" stroke="none"/>
<path d="M1045,1270 L1045,1150" stroke-width="25" stroke-linecap="butt"/>
<path d="M1045,1000 L1012,1168 L1078,1168 Z" fill="#231815" stroke="none"/>
</g>
</g>
<circle cx="185.4" cy="1060" r="109.8" fill="none" stroke="#231815" stroke-width="3.8" stroke-dasharray="6.4 5"/>
<!-- lower-left detail R -->
<circle cx="120" cy="1320.4" r="110" fill="none" stroke="#231815" stroke-width="3.8" stroke-dasharray="6.4 5"/>
<g transform="translate(0,1205) scale(0.16609)" stroke="#231815" fill="none" stroke-linejoin="round" stroke-linecap="round">
<path d="M90,650 L260,650 L260,700 L90,700 C75,700 65,690 65,675 C65,660 75,650 90,650 Z" fill="#231815" stroke="none"/>
<path d="M260,655 L480,668 L260,695 Z" fill="#fff" stroke-width="20"/>
<path d="M470,668 L690,660" stroke-width="18"/>
<path d="M690,660 L755,658 L800,710 L685,740 M690,640 L815,560 M705,660 L735,785 L1050,765" stroke-width="18"/>
<path d="M1050,765 L1255,688 L1255,805 Z" fill="#fff" stroke-width="22"/>
<rect x="1255" y="712" width="120" height="83" fill="#231815" stroke="none"/>
<path d="M645,578 L520,578 M775,873 L900,873" stroke-width="28" stroke-linecap="butt"/>
<path d="M375,578 L540,550 L540,606 Z M1040,873 L875,845 L875,901 Z" fill="#231815" stroke="none"/>
</g>
<!-- right detail W -->
<circle cx="1092.5" cy="1064.6" r="109.6" fill="none" stroke="#231815" stroke-width="3.8" stroke-dasharray="6.4 5"/>
<g transform="translate(970,945) scale(0.16609)" stroke="#231815" fill="none" stroke-linejoin="round">
<path d="M230,312 L1230,312 M195,370 L1285,370" stroke-width="7"/>
<rect x="610" y="95" width="205" height="305" fill="#3b3536" stroke="none"/>
<path d="M610,95 L815,290 M815,95 L610,290 M610,290 L815,290" stroke-width="5"/>
<rect x="590" y="415" width="243" height="280" stroke-width="26"/>
<rect x="603" y="430" width="215" height="90" fill="#3b3536" stroke="none"/>
<rect x="590" y="585" width="243" height="40" fill="#231815" stroke="none"/>
<rect x="603" y="625" width="215" height="50" fill="#3b3536" stroke="none"/>
<path d="M600,1380 L825,1380 L840,760 L575,760 L505,1270 L600,1290 Z" fill="#3b3536" stroke="none"/>
<path d="M575,780 L810,790 L720,1300 L505,1270" stroke="#231815" stroke-width="5"/>
<path d="M585,670 L840,670 C830,740 780,785 710,785 C640,785 590,740 585,670 Z" fill="#231815" stroke="none"/>
<path d="M470,880 L420,1040" stroke-width="22"/>
<path d="M482,815 L425,905 L495,915 Z M405,1100 L400,995 L465,1015 Z" fill="#231815" stroke="none"/>
<rect x="903" y="995" width="38" height="145" fill="#231815" stroke="none"/>
<path d="M920,775 L878,1005 L962,1005 Z" fill="#231815" stroke="none"/>
</g>
<!-- baffle diagram X -->
<g transform="translate(1040,1150) scale(0.28028)" stroke="#231815" fill="none" stroke-linejoin="round">
<path d="M430,555 C470,350 650,90 910,85 C1150,90 1330,300 1390,555" stroke-width="6"/>
<path d="M462,435 C462,418 475,412 487,412 C500,412 510,420 510,435 L510,697 L462,697 Z" fill="#b5b5b5" stroke-width="6"/>
<path d="M1325,435 C1325,418 1338,412 1350,412 C1362,412 1372,420 1372,435 L1372,697 L1325,697 Z" fill="#b5b5b5" stroke-width="6"/>
<rect x="458" y="697" width="910" height="25" fill="#b5b5b5" stroke-width="6"/>
<path d="M290,352 L355,352 M285,617 L345,617 M877,525 L877,598" stroke-width="12"/>
<path d="M435,352 L345,333 L345,371 Z M428,617 L338,598 L338,636 Z M877,668 L861,590 L893,590 Z" fill="#231815" stroke="none"/>
</g>
<text x="1061" y="1255" font-size="15.2" fill="#231815" textLength="57" lengthAdjust="spacingAndGlyphs">Bracket</text>
<text x="1073" y="1328" font-size="15.2" fill="#231815" textLength="40.5" lengthAdjust="spacingAndGlyphs">baffle</text>
<text x="1245.5" y="1291.5" font-size="15.2" fill="#231815" textLength="84.5" lengthAdjust="spacingAndGlyphs">tent bottom</text>
<text x="1167.5" y="1382" font-size="20" fill="#231815" textLength="253.7" lengthAdjust="spacingAndGlyphs">the tent cover on the baffle</text>
</svg>
</body></html>
